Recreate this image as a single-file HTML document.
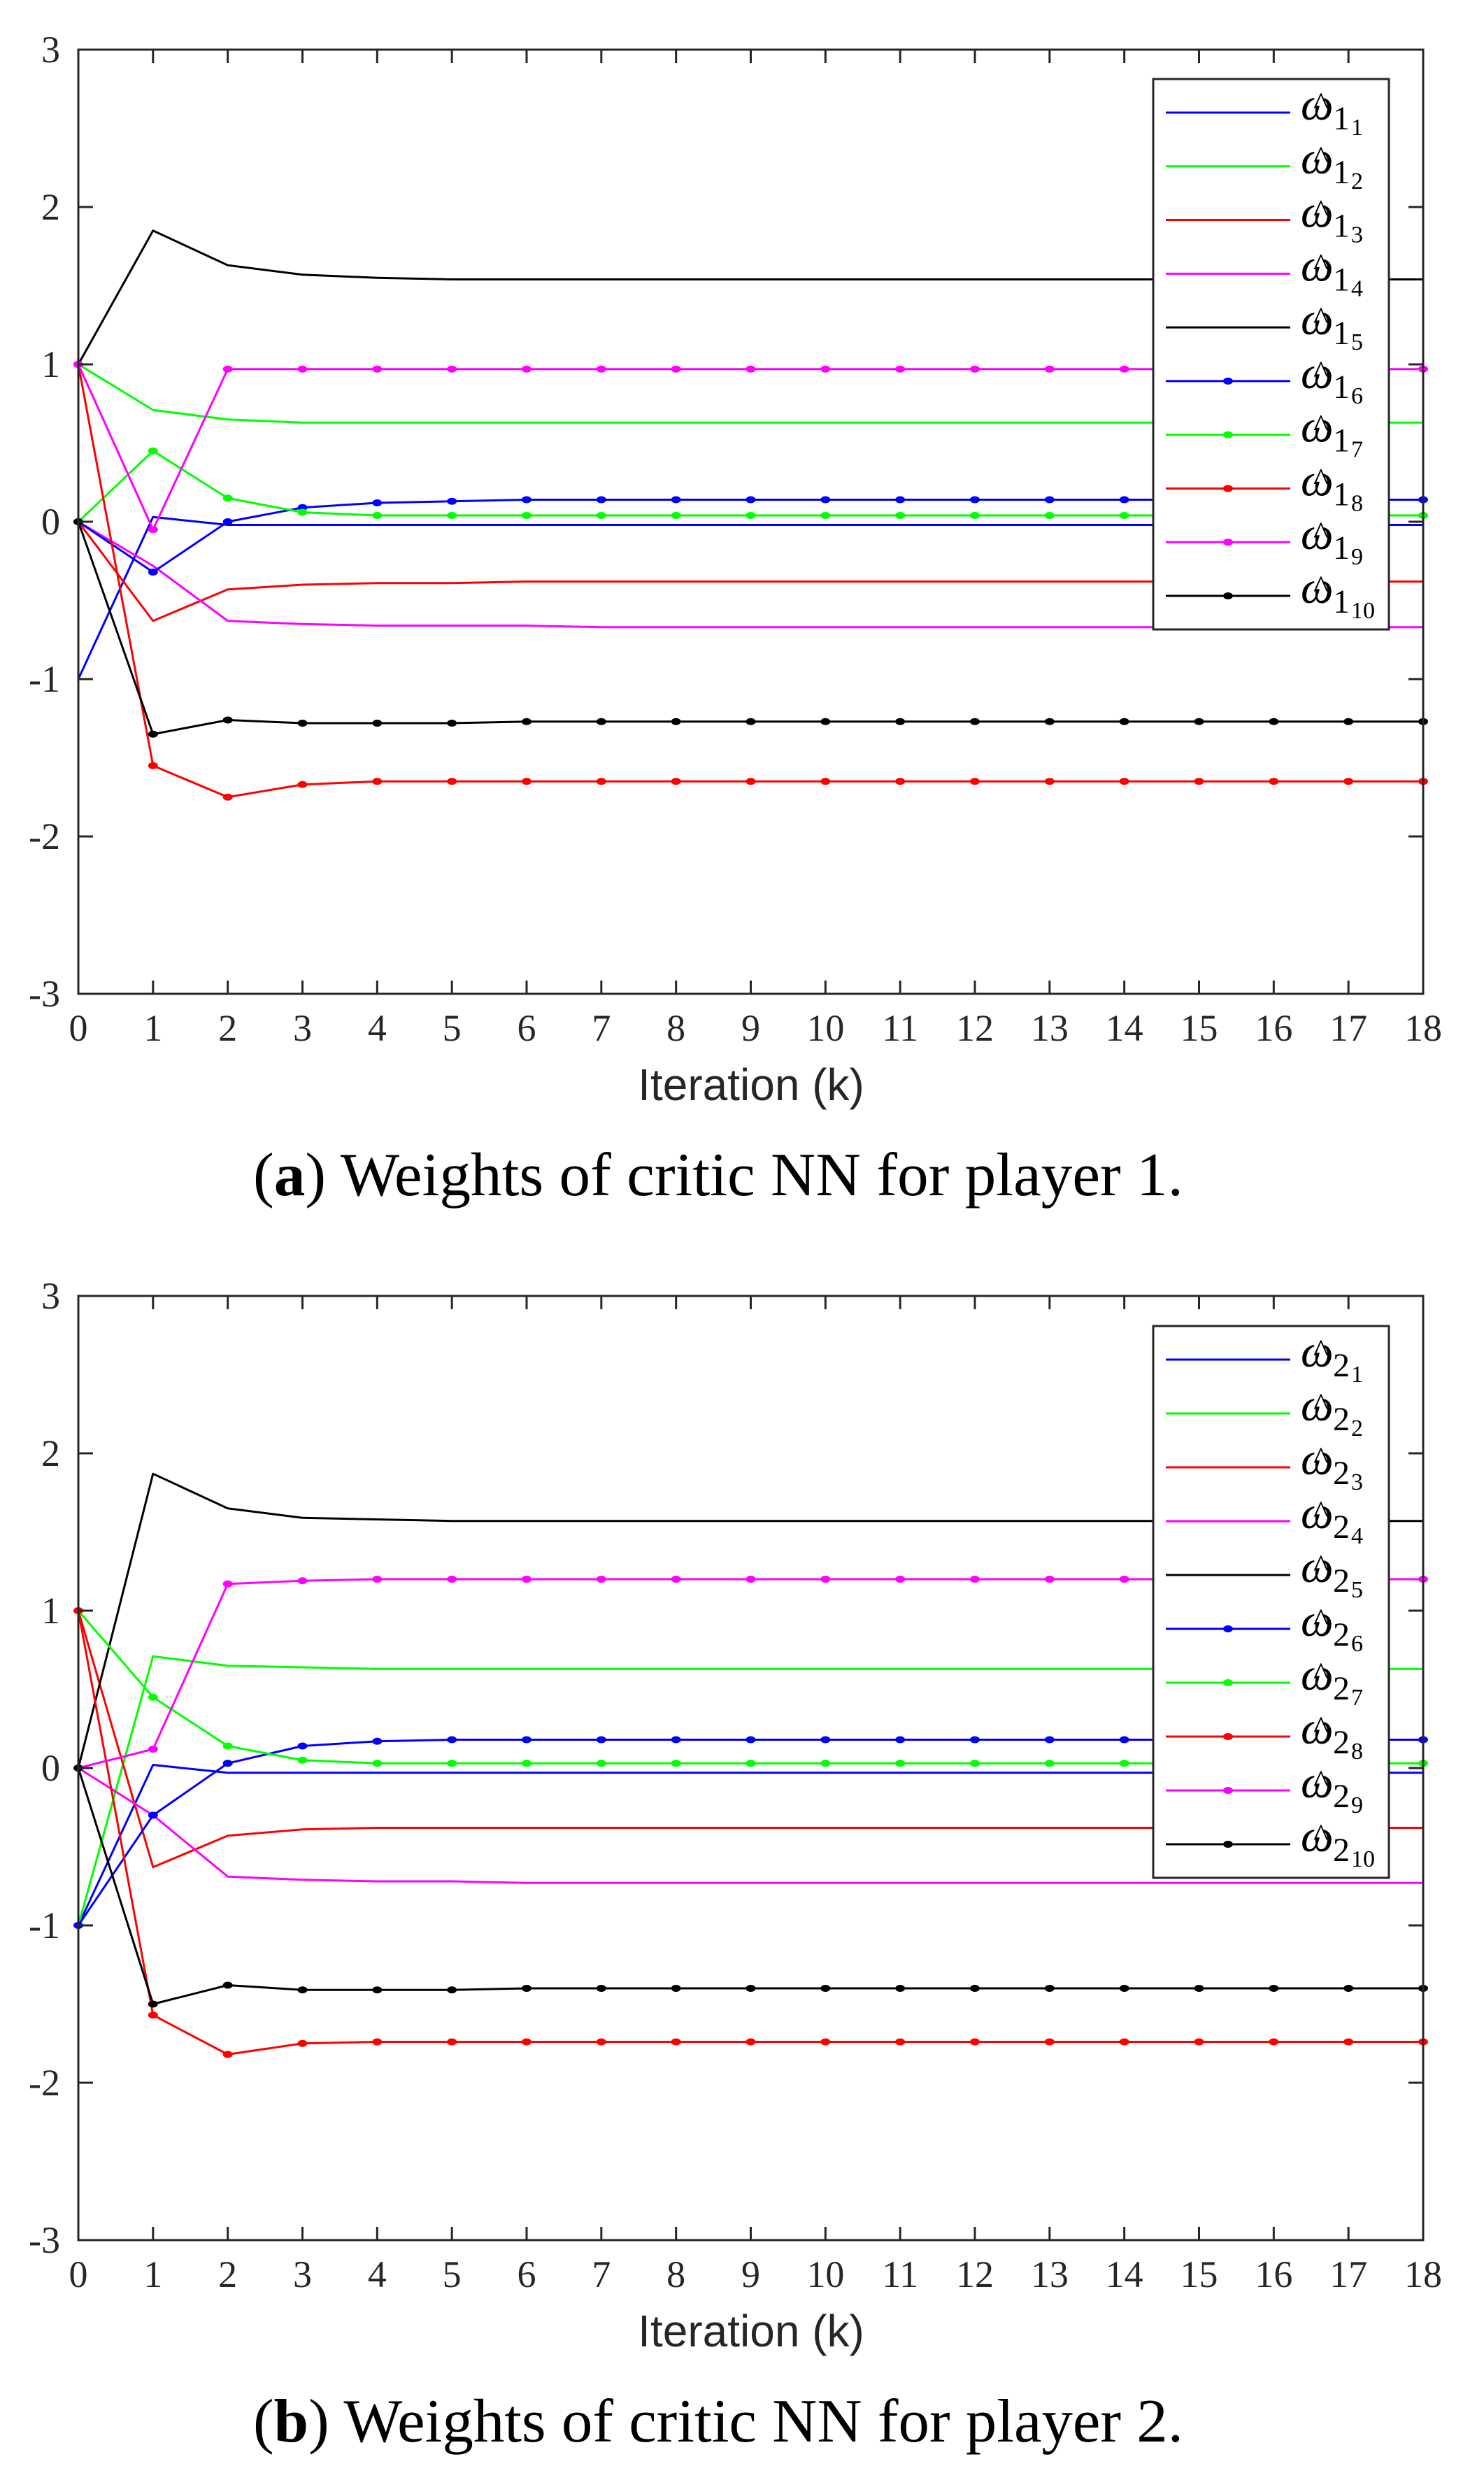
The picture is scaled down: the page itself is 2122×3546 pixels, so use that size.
<!DOCTYPE html>
<html><head><meta charset="utf-8"><style>
html,body{margin:0;padding:0;background:#fff;}
svg{display:block;}
</style></head><body>
<svg id="s" width="2122" height="3546" xmlns="http://www.w3.org/2000/svg"></svg>
<script>
const S=document.getElementById('s');
const NS='http://www.w3.org/2000/svg';
function el(t,a,txt){const e=document.createElementNS(NS,t);for(const k in a)e.setAttribute(k,a[k]);if(txt!==undefined)e.textContent=txt;S.appendChild(e);return e;}
const L=112,R=2035,U=225;
function ext(a,n){a=a.slice();while(a.length<19)a.push(a[a.length-1]);return a;}
const C={b:'#0000ff',g:'#00ff00',r:'#ff0000',m:'#ff00ff',k:'#000000'};
const P1=[
['b',0,[-1,0.03,-0.02,-0.02,-0.02,-0.02,-0.02]],
['g',0,[1,0.71,0.65,0.63,0.63,0.63]],
['r',0,[0,-0.63,-0.43,-0.40,-0.39,-0.39,-0.38]],
['m',0,[0,-0.28,-0.63,-0.65,-0.66,-0.66,-0.66,-0.67]],
['k',0,[1,1.85,1.63,1.57,1.55,1.54]],
['b',1,[0,-0.32,0.0,0.09,0.12,0.13,0.14]],
['g',1,[0,0.45,0.15,0.06,0.04,0.04]],
['r',1,[1,-1.55,-1.75,-1.67,-1.65,-1.65]],
['m',1,[1,-0.05,0.97,0.97,0.97,0.97]],
['k',1,[0,-1.35,-1.26,-1.28,-1.28,-1.28,-1.27]]];
const P2=[
['b',0,[-1,0.02,-0.03,-0.03,-0.03]],
['g',0,[-1,0.71,0.65,0.64,0.63,0.63]],
['r',0,[1,-0.63,-0.43,-0.39,-0.38,-0.38]],
['m',0,[0,-0.3,-0.69,-0.71,-0.72,-0.72,-0.73]],
['k',0,[0,1.87,1.65,1.59,1.58,1.57]],
['b',1,[-1,-0.3,0.03,0.14,0.17,0.18]],
['g',1,[1,0.45,0.14,0.05,0.03,0.03]],
['r',1,[1,-1.57,-1.82,-1.75,-1.74,-1.74]],
['m',1,[0,0.12,1.17,1.19,1.2,1.2]],
['k',1,[0,-1.5,-1.38,-1.41,-1.41,-1.41,-1.40]]];
function plot(T,data,pl,cap,legTop,legBot){
  const B=T+6*U,Z=T+3*U;
  const X=k=>L+k*(R-L)/18, Y=v=>Z-v*U;
  data.forEach(([c,m,v])=>{
    v=ext(v);
    el('polyline',{points:v.map((y,k)=>X(k)+','+Y(y)).join(' '),fill:'none',stroke:C[c],'stroke-width':3,'stroke-linejoin':'round'});
    if(m)v.forEach((y,k)=>el('ellipse',{cx:X(k),cy:Y(y),rx:7,ry:5,fill:C[c]}));
  });
  el('rect',{x:L,y:T,width:R-L,height:B-T,fill:'none',stroke:'#262626','stroke-width':3});
  for(let k=0;k<=18;k++){
    if(k>0&&k<18){el('line',{x1:X(k),y1:B,x2:X(k),y2:B-19,stroke:'#262626','stroke-width':3});
    el('line',{x1:X(k),y1:T,x2:X(k),y2:T+19,stroke:'#262626','stroke-width':3});}
    el('text',{x:X(k),y:B+67,'font-family':'Liberation Serif, serif','font-size':54,'text-anchor':'middle',fill:'#262626'},String(k));
  }
  for(let v=-3;v<=3;v++){
    if(v>-3&&v<3){el('line',{x1:L,y1:Y(v),x2:L+21,y2:Y(v),stroke:'#262626','stroke-width':3});
    el('line',{x1:R,y1:Y(v),x2:R-21,y2:Y(v),stroke:'#262626','stroke-width':3});}
    el('text',{x:86,y:Y(v)+18,'font-family':'Liberation Serif, serif','font-size':54,'text-anchor':'end',fill:'#262626'},v<0?'-'+(-v):String(v));
  }
  el('rect',{x:1649,y:legTop,width:337,height:legBot-legTop,fill:'#fff',stroke:'#262626','stroke-width':3});
  const sp=(legBot-legTop-96)/9;
  data.forEach(([c,m],i)=>{
    const y=legTop+48+i*sp;
    el('line',{x1:1667,y1:y,x2:1845,y2:y,stroke:C[c],'stroke-width':3});
    if(m)el('ellipse',{cx:1756,cy:y,rx:7,ry:5,fill:C[c]});
    el('text',{x:1860,y:y+10,'font-family':'Liberation Serif, serif','font-size':66,'font-style':'italic',fill:'#000'},'ω');
    el('text',{x:1878,y:y+2,'font-family':'Liberation Serif, serif','font-size':46,fill:'#000'},'^');
    el('text',{x:1906,y:y+24,'font-family':'Liberation Serif, serif','font-size':48,fill:'#000'},pl);
    el('text',{x:1932,y:y+32,'font-family':'Liberation Serif, serif','font-size':34,fill:'#000'},String(i+1));
  });
  el('text',{x:1074,y:B+152,'font-family':'Liberation Sans, sans-serif','font-size':64,'text-anchor':'middle',fill:'#262626'},'Iteration (k)');
  const t=el('text',{x:1027,y:B+288,'font-family':'Liberation Serif, serif','font-size':88,'text-anchor':'middle',fill:'#000',textLength:1330,lengthAdjust:'spacingAndGlyphs'});
  t.innerHTML='(<tspan font-weight="bold">'+cap[0]+'</tspan>) '+cap[1];
}
plot(71,P1,'1',['a','Weights of critic NN for player 1.'],113,900);
plot(1853,P2,'2',['b','Weights of critic NN for player 2.'],1896,2685);
</script>
</body></html>
